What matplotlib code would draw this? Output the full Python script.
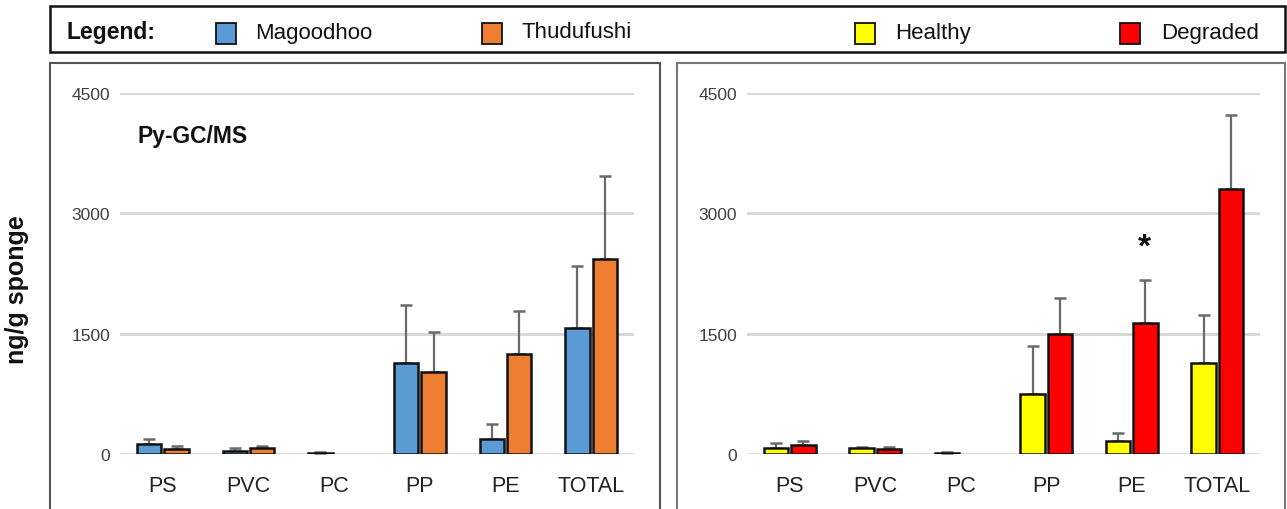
import matplotlib
matplotlib.use("Agg")
import matplotlib.pyplot as plt
from matplotlib.patches import Rectangle
import numpy as np

plt.rcParams['font.family'] = ['Liberation Sans', 'DejaVu Sans']

categories = ["PS", "PVC", "PC", "PP", "PE", "TOTAL"]

# Left panel: sites
magoodhoo = [120, 41, 12, 1135, 182, 1575]
magoodhoo_err_top = [190, 75, 25, 1856, 373, 2345]
thudufushi = [58, 75, 0, 1019, 1243, 2436]
thudufushi_err_top = [100, 100, 0, 1525, 1782, 3464]

# Right panel: condition
healthy = [75, 75, 12, 754, 166, 1135]
healthy_err_top = [141, 91, 25, 1342, 265, 1732]
degraded = [108, 58, 0, 1492, 1632, 3306]
degraded_err_top = [157, 91, 0, 1939, 2171, 4227]

yticks = [0, 1500, 3000, 4500]

C_BLUE = "#5B9BD5"
C_ORANGE = "#ED7D31"
C_YELLOW = "#FFFF00"
C_RED = "#FF0000"

W, H = 1287, 510
fig = plt.figure(figsize=(W / 100, H / 100), dpi=100)


def fx(px):
    return px / W


def fy(py):
    return 1 - py / H


# panel frames
for x0, x1, ec in [(50, 660, "#555555"), (677, 1285, "#777777")]:
    fig.patches.append(Rectangle((fx(x0), fy(H + 10)), fx(x1 - x0), fy(64) - fy(H + 10),
                                 transform=fig.transFigure, fill=False, edgecolor=ec, lw=1.5))

# legend box
fig.patches.append(Rectangle((fx(50), fy(53)), fx(1285 - 50), fy(7) - fy(53),
                             transform=fig.transFigure, fill=False, edgecolor="#111111", lw=1.8))
fig.text(fx(67), fy(33), "Legend:", fontsize=16.5, fontweight="bold", va="center", ha="left", color="#111111")
leg_items = [(216, 255, C_BLUE, "Magoodhoo"), (482, 521, C_ORANGE, "Thudufushi"),
             (855, 895, C_YELLOW, "Healthy"), (1120, 1161, C_RED, "Degraded")]
for px, tx, col, lab in leg_items:
    fig.patches.append(Rectangle((fx(px), fy(45)), fx(20), fy(24) - fy(45),
                                 transform=fig.transFigure, facecolor=col, edgecolor="#111111", lw=1.3))
    fig.text(fx(tx), fy(33), lab, fontsize=16, va="center", ha="left", color="#111111")

fig.text(fx(17), fy(290), "ng/g sponge", rotation=90, fontsize=18, fontweight="bold",
         va="center", ha="center", color="#111111")

ax_b = fy(455)
ax_h = fy(94) - fy(455)
axL = fig.add_axes([fx(120), ax_b, fx(634 - 120), ax_h])
axR = fig.add_axes([fx(747), ax_b, fx(1260 - 747), ax_h])

x = np.arange(len(categories))
bw = 0.285
off = 0.16


def draw(ax, v1, e1, v2, e2, c1, c2):
    for vals, errs, col, sgn in [(v1, e1, c1, -1), (v2, e2, c2, 1)]:
        vals = np.array(vals, float)
        errs = np.array(errs, float)
        pos = x + sgn * off
        ecs = ["#111111" if v > 0 else "none" for v in vals]
        ax.bar(pos, vals, width=bw, color=col, edgecolor=ecs, linewidth=1.8, zorder=3)
        up = np.clip(errs - vals, 0, None)
        mask = errs > 0
        ax.errorbar(pos[mask], vals[mask], yerr=[np.zeros(mask.sum()), up[mask]], fmt="none",
                    ecolor="#6a6a6a", elinewidth=1.6, capsize=4.5, capthick=1.8, zorder=2)
    ax.set_xlim(-0.5, len(categories) - 0.5)
    ax.set_ylim(0, 4500)
    ax.set_yticks(yticks)
    ax.set_yticklabels([str(t) for t in yticks], fontsize=12.5, color="#404040")
    ax.set_xticks(x)
    ax.set_xticklabels(categories, fontsize=15.5, color="#222222")
    ax.tick_params(axis="both", length=0)
    ax.tick_params(axis="y", pad=7)
    ax.tick_params(axis="x", pad=15)
    ax.yaxis.grid(True, color="#D6D6D6", lw=2.0, zorder=0)
    ax.set_axisbelow(True)
    for s in ax.spines.values():
        s.set_visible(False)
    ax.patch.set_alpha(0)


draw(axL, magoodhoo, magoodhoo_err_top, thudufushi, thudufushi_err_top, C_BLUE, C_ORANGE)
draw(axR, healthy, healthy_err_top, degraded, degraded_err_top, C_YELLOW, C_RED)

axL.text(0.035, 0.881, "Py-GC/MS", transform=axL.transAxes, fontsize=16.5, fontweight="bold",
         va="center", ha="left", color="#111111")
axR.text(4 + off - 0.01, 2580, "*", fontsize=24, fontweight="bold", ha="center", va="center", color="#111111")

fig.savefig("out.png", dpi=100)
